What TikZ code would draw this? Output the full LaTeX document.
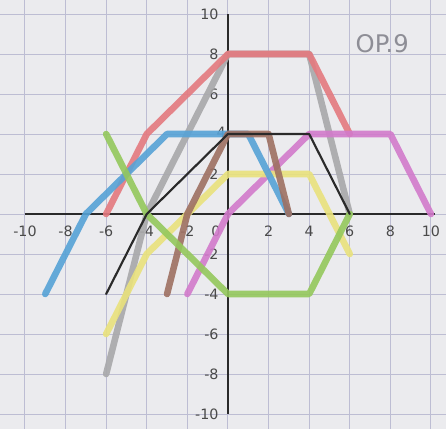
\documentclass[tikz,border=0pt]{standalone}
\usepackage{fontspec}
\setmainfont{DejaVu Sans}
\definecolor{paper}{HTML}{EBEBEE}
\definecolor{gridc}{HTML}{BDBDD3}
\definecolor{redc}{HTML}{E4797F}
\definecolor{grayc}{HTML}{A8A8AA}
\definecolor{bluec}{HTML}{56A2D6}
\definecolor{magc}{HTML}{D27ACB}
\definecolor{brownc}{HTML}{9E7062}
\definecolor{yellowc}{HTML}{E9E27C}
\definecolor{greenc}{HTML}{94C85C}
\definecolor{inkc}{HTML}{2A2A2A}
\definecolor{ghost}{HTML}{8E8E96}
\tikzset{
  marker/.style={line width=4.6pt, opacity=0.9, line join=round, line cap=round},
  pen/.style={line width=1.5pt, inkc, line join=round, line cap=round},
  axisline/.style={line width=1.2pt, inkc},
  ticklab/.style={font=\fontsize{10}{10}\selectfont, text=inkc!85, inner sep=0pt},
}
\begin{document}
\begin{tikzpicture}[x=0.5cm,y=0.4926cm]
\fill[paper] (-11.23,-10.75) rectangle (10.74,10.7);
\useasboundingbox (-11.23,-10.75) rectangle (10.74,10.7);
\foreach \i in {-10,-8,...,10} \draw[gridc, line width=0.7pt] (\i,-10.75) -- (\i,10.7);
\foreach \j in {-10,-8,...,10} \draw[gridc, line width=0.7pt] (-11.23,\j) -- (10.74,\j);
\node[text=ghost, font=\fontsize{17}{17}\selectfont] (ghost) at (7.6,8.5) {OP.9};
% axes
\coordinate (xl) at (-10,0); \coordinate (xr) at (10.2,0);
\coordinate (yb) at (0,-10); \coordinate (yt) at (0,10);
\draw[axisline] (xl) -- (xr);
\draw[axisline] (yb) -- (yt);
% tick labels
\foreach \x/\t in {-10/-10,-8/-8,-6/-6,-4/-4,-2/-2,2/2,4/4,6/6,8/8,10/10}
  \node[ticklab] (xt\x) at (\x,-0.85) {\t};
\node[ticklab] (x0) at (-0.6,-0.85) {0};
\foreach \y/\t in {10/10,8/8,6/6,2/2,-2/-2,-4/-4,-6/-6,-8/-8,-10/-10}
  \node[ticklab, anchor=east] (yt\y) at (-0.45,\y) {\t};
\node[ticklab, anchor=east] (yt4) at (-0.1,4.1) {4};
% graphs
\draw[marker, grayc] (-6,-8) -- (-4,0) -- (0,8) -- (4,8) -- (6,0);
\draw[marker, redc] (-6,0) -- (-4,4) -- (0,8) -- (4,8) -- (6,4);
\draw[marker, magc] (-2,-4) -- (0,0) -- (4,4) -- (8,4) -- (10,0);
\draw[marker, yellowc] (-6,-6) -- (-4,-2) -- (0,2) -- (4,2) -- (6,-2);
\draw[marker, bluec] (-9,-4) -- (-7,0) -- (-3,4) -- (1,4) -- (3,0);
\draw[marker, brownc] (-3,-4) -- (-2,0) -- (0,4) -- (2,4) -- (3,0);
\draw[marker, greenc] (-6,4) -- (-4,0) -- (0,-4) -- (4,-4) -- (6,0);
\draw[pen] (-6,-4) -- (-4,0) -- (0,4) -- (4,4) -- (6,0);
\end{tikzpicture}
\end{document}
